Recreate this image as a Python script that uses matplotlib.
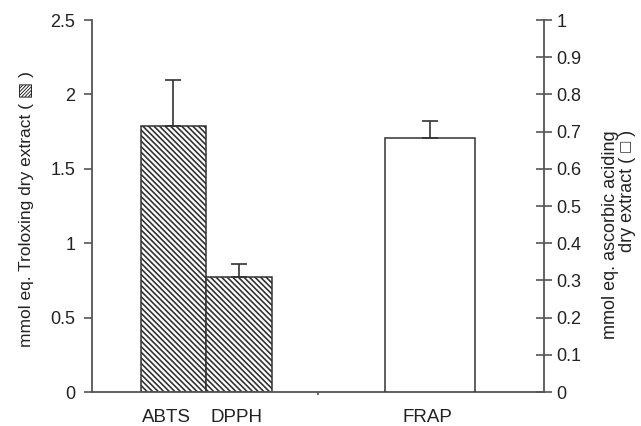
import matplotlib
matplotlib.use("Agg")
import matplotlib.pyplot as plt

plt.rcParams['font.family'] = ['Liberation Sans', 'DejaVu Sans']
plt.rcParams['hatch.linewidth'] = 1.2

# left axis (Trolox equivalents)
trolox_labels = ['ABTS', 'DPPH']
trolox_values = [1.79, 0.775]
trolox_errors = [0.31, 0.085]

# right axis (ascorbic acid equivalents)
ascorbic_labels = ['FRAP']
ascorbic_values = [0.682]
ascorbic_errors = [0.047]

left_ticks = [0, 0.5, 1, 1.5, 2, 2.5]
right_ticks = [0, 0.1, 0.2, 0.3, 0.4, 0.5, 0.6, 0.7, 0.8, 0.9, 1]

edge = '#333333'
spine = '#555555'

fig = plt.figure(figsize=(6.41, 4.26), dpi=100)
ax = fig.add_axes([0.1435, 0.0798, 0.7052, 0.8732])
ax2 = ax.twinx()

trolox_x = [0.36, 0.65]
bw = 0.29
ax.bar(trolox_x, trolox_values, width=bw, color='white', edgecolor=edge,
       hatch='\\\\\\\\\\\\', linewidth=1.1, zorder=2)
ax.errorbar(trolox_x, trolox_values, yerr=[[0, 0], trolox_errors], fmt='none',
            ecolor=edge, elinewidth=1.2, capsize=5.5, capthick=1.2, zorder=3)

frap_x = [1.495]
ax2.bar(frap_x, ascorbic_values, width=0.395, color='white', edgecolor=edge,
        linewidth=1.1, zorder=2)
ax2.errorbar(frap_x, ascorbic_values, yerr=[[0], ascorbic_errors], fmt='none',
             ecolor=edge, elinewidth=1.2, capsize=5.5, capthick=1.2, zorder=3)

ax.set_xlim(0, 2)
ax.set_ylim(0, 2.5)
ax2.set_ylim(0, 1)

ax.set_yticks(left_ticks)
ax.set_yticklabels(['%g' % v for v in left_ticks])
ax2.set_yticks(right_ticks)
ax2.set_yticklabels(['%g' % v for v in right_ticks])

# category labels sit a little left of the bar centres in the original
ax.set_xticks([0.33, 0.64, 1.485])
ax.set_xticklabels(trolox_labels + ascorbic_labels)
ax.set_xticks([1.0], minor=True)
ax.tick_params(axis='x', which='major', length=0, pad=12, labelsize=13.5, colors='#222222')
ax.tick_params(axis='x', which='minor', length=2, width=1.2, color=spine)

ax.tick_params(axis='y', direction='out', length=6, width=1.2, color=spine,
               labelsize=13, labelcolor='#222222', pad=6)
ax2.tick_params(axis='y', direction='inout', length=12, width=1.2, color=spine,
                labelsize=13, labelcolor='#222222', pad=3)

for a in (ax, ax2):
    a.spines['top'].set_visible(False)
    for s in ('left', 'right', 'bottom'):
        a.spines[s].set_color(spine)
        a.spines[s].set_linewidth(1.3)
ax2.spines['left'].set_visible(False)
ax2.spines['bottom'].set_visible(False)
ax.spines['right'].set_visible(False)

fig.text(0.042, 0.51, 'mmol eq. Troloxing dry extract ( \u25A7 )', rotation=90,
         ha='center', va='center', fontsize=12.5, color='#222222')
fig.text(0.966, 0.45, 'mmol eq. ascorbic aciding\ndry extract ( \u25A1 )', rotation=90,
         ha='center', va='center', fontsize=13, color='#222222', linespacing=1.0,
         multialignment='right')

fig.savefig('out.png', dpi=100)
